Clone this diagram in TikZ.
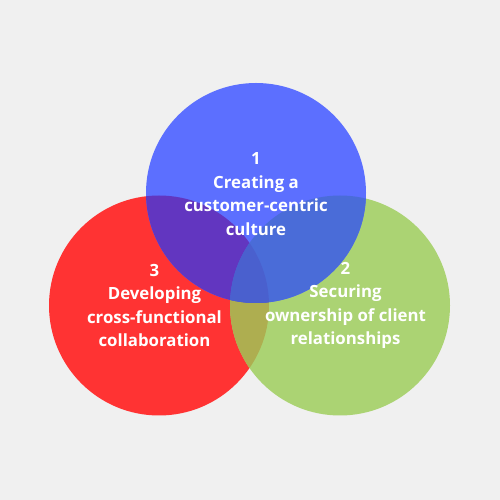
\documentclass[tikz,border=0pt]{standalone}
\usepackage{fontspec}
\setmainfont{Open Sans}
\definecolor{bg}{HTML}{F0F0F0}
\definecolor{cblue}{HTML}{5C6FFF}
\definecolor{cred}{HTML}{FF3333}
\definecolor{cgreen}{HTML}{ABD373}
\definecolor{cpurple}{HTML}{6236C0}
\definecolor{cbg}{HTML}{4A6CD8}
\definecolor{colive}{HTML}{AEAE50}
\definecolor{ctriple}{HTML}{4A60CE}
\tikzset{
  lbl/.style={text=white, align=center, inner sep=0pt, font=\fontsize{16.8}{23.5}\selectfont\bfseries}
}
\begin{document}
\begin{tikzpicture}[x=1pt,y=1pt]
\fill[bg] (0,0) rectangle (500,500);
\useasboundingbox (0,0) rectangle (500,500);
\coordinate (cb) at (256,307);
\coordinate (cr) at (159,194.5);
\coordinate (cg) at (340,194.5);
\def\R{110pt}
\fill[cred] (cr) circle[radius=\R];
\fill[cgreen] (cg) circle[radius=\R];
\fill[cblue] (cb) circle[radius=\R];
\begin{scope}
  \clip (cr) circle[radius=\R];
  \fill[colive] (cg) circle[radius=\R];
\end{scope}
\begin{scope}
  \clip (cb) circle[radius=\R];
  \fill[cpurple] (cr) circle[radius=\R];
  \fill[cbg] (cg) circle[radius=\R];
  \clip (cr) circle[radius=\R];
  \fill[ctriple] (cg) circle[radius=\R];
\end{scope}
\node[lbl] (t1) at (256,306) {1\\Creating a\\customer-centric\\culture};
\node[lbl] (t3) at (154.5,194.5) {3\\Developing\\cross-functional\\collaboration};
\node[lbl] (t2) at (345.5,194.5) {2\\Securing\\ownership of client\\relationships};
\end{tikzpicture}
\end{document}
